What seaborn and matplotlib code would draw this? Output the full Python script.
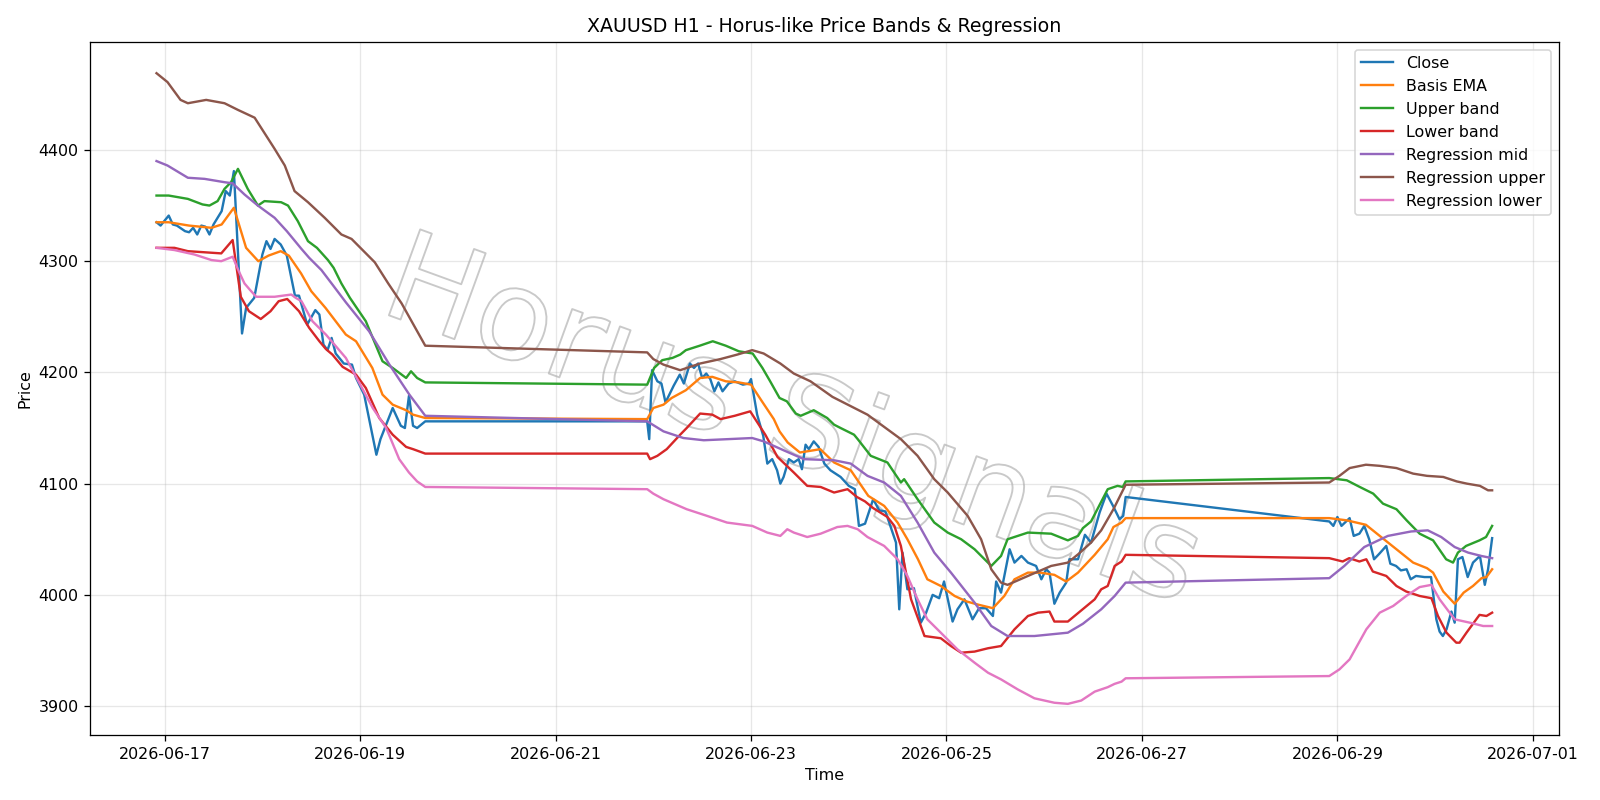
import matplotlib
matplotlib.use('Agg')
import matplotlib.pyplot as plt
import matplotlib.patheffects as pe
import seaborn as sns
import pandas as pd

# hours counted from 2026-06-17 00:00
base = pd.Timestamp('2026-06-17 00:00')

close_h = [-2, -1, 1, 2, 3, 5, 6, 7, 8, 9, 10, 11, 12, 14, 15, 16, 17, 19, 20, 22, 24, 25, 26, 27, 28.5, 30, 32, 33,
           35, 37, 38, 39, 40, 41, 42, 44, 46, 47, 49, 52, 53, 56, 58, 59, 60, 61, 62, 64,
           118.5, 119, 119.7, 121, 122, 123, 125, 126.5, 127.5, 129, 130, 131, 132, 133, 134, 135, 136, 137, 138.5, 140,
           142, 143.5, 144, 145.5, 147, 148, 149.2, 150.4, 151.2, 152, 153.3, 154.5, 155.7, 156.5, 157.4, 158.2, 159.4,
           160.6, 162, 163.5, 166, 168, 169.5, 170.5, 172, 174, 175.5, 177, 178.5, 179.6, 180.4, 181.2, 182.4, 184, 185.7,
           187, 188.6, 190.2, 191.4, 193.5, 194.7, 196.4, 198.4, 200, 201.7, 203.4, 204.2, 205.4, 207.5, 208.7, 210.4, 212,
           214, 215.3, 216.5, 217.3, 218.5, 219.8, 221.4, 222.2, 224.3, 226, 227.5, 229.6, 231.3, 232.9, 234.5, 235.4, 236,
           286, 287, 288, 289, 291, 292, 293.4, 294.6, 295.8, 297, 298.3, 300, 301, 302.4, 303.6, 305, 306, 307.3, 309.4,
           311, 312.3, 313.1, 313.9, 314.8, 316, 316.8, 317.6, 318.7, 320, 321.3, 323, 324.2, 325, 326]
close_p = [4335, 4332, 4341, 4333, 4332, 4327, 4326, 4330, 4324, 4332, 4331, 4324, 4333, 4345, 4363, 4359, 4381, 4235,
           4258, 4267, 4306, 4318, 4311, 4320, 4315, 4305, 4269, 4269, 4243, 4256, 4252, 4225, 4220, 4231, 4217, 4208,
           4207, 4195, 4180, 4126, 4140, 4168, 4152, 4150, 4179, 4152, 4150, 4156,
           4156, 4140, 4202, 4192, 4190, 4173, 4188, 4198, 4190, 4208, 4204, 4208, 4195, 4199, 4194, 4183, 4191, 4183,
           4190, 4192, 4189, 4190, 4194, 4162, 4143, 4118, 4122, 4112, 4100, 4106, 4122, 4119, 4122, 4113, 4135, 4131,
           4138, 4133, 4118, 4112, 4106, 4098, 4095, 4062, 4064, 4086, 4076, 4075, 4059, 4047, 3987, 4038, 4005, 4006,
           3975, 3984, 4000, 3997, 4012, 3976, 3987, 3996, 3978, 3988, 3988, 3981, 4012, 4002, 4041, 4029, 4035, 4029,
           4026, 4014, 4023, 4020, 3992, 4002, 4011, 4032, 4032, 4054, 4047, 4074, 4091, 4080, 4068, 4071, 4088,
           4066, 4062, 4070, 4062, 4069, 4053, 4055, 4062, 4050, 4032, 4037, 4044, 4028, 4026, 4022, 4023, 4014, 4017,
           4016, 4016, 3978, 3967, 3963, 3969, 3985, 3975, 4032, 4034, 4016, 4029, 4035, 4009, 4023, 4051]

ema_h = [-2, 1, 6, 11.5, 14, 17, 20, 23, 25.5, 28.5, 30.5, 33.5, 36, 39.5, 44.5, 47, 51, 53.5, 56, 59.3, 61, 64,
         118.5, 120, 122.5, 124.5, 128, 131.5, 134.5, 137.8, 141, 144, 146.5, 149.6, 151, 153, 156, 159.4, 161, 164.4,
         168.5, 172.8, 176.7, 180, 182.4, 185, 187.3, 190.6, 194, 197, 200, 203.4, 206.2, 208.7, 212, 215, 218.5, 221.4,
         224.3, 228.4, 231.6, 233, 235, 236,
         286, 290.3, 295, 298.4, 302.5, 306.6, 310, 311.5, 314, 316.8, 319, 321.3, 323.4, 324.6, 326]
ema_p = [4335, 4335, 4332, 4330, 4333, 4348, 4312, 4300, 4305, 4309, 4305, 4289, 4273, 4258, 4234, 4228, 4204, 4180,
         4171, 4166, 4162, 4159,
         4158, 4168, 4171, 4177, 4184, 4195, 4196, 4192, 4191, 4189, 4175, 4158, 4147, 4137, 4128, 4130, 4131, 4119,
         4112, 4089, 4080, 4065, 4050, 4032, 4014, 4008, 3999, 3994, 3991, 3988, 3999, 4014, 4020, 4020, 4018, 4012,
         4020, 4036, 4050, 4061, 4065, 4069,
         4069, 4067, 4063, 4053, 4041, 4029, 4024, 4020, 4003, 3992, 4002, 4008, 4015, 4016, 4023]

up_h = [-2, 1, 5.7, 9.3, 11, 13, 14.7, 16.3, 18, 20.4, 22.9, 24.5, 28.6, 30.3, 32.7, 35.2, 37.4, 40.1, 41.5, 43.4,
        45.5, 49.4, 53.5, 56, 59.3, 60.5, 62, 64,
        118.5, 120.2, 122.2, 124.7, 126.6, 128, 131.4, 134.6, 137.8, 141, 144.4, 146.8, 148.7, 151, 152.8, 155, 156.2,
        159.4, 162.7, 164.4, 166, 169.3, 170.2, 173.4, 177.5, 180.8, 181.6, 184.9, 189, 192.3, 195.6, 198.9, 203,
        205.4, 207, 212, 217.7, 221.8, 224.3, 225.5, 227.5, 231.6, 234, 235.3, 236,
        286, 290.3, 293.5, 296.8, 299.2, 302.5, 305, 308.2, 311.5, 314.7, 316.4, 317.6, 319.6, 322.9, 324.5, 326]
up_p = [4359, 4359, 4356, 4351, 4350, 4354, 4365, 4371, 4383, 4365, 4350, 4354, 4353, 4350, 4336, 4318, 4312, 4301,
        4294, 4280, 4267, 4246, 4210, 4204, 4195, 4201, 4195, 4191,
        4189, 4204, 4211, 4213, 4216, 4220, 4224, 4228, 4224, 4219, 4217, 4204, 4192, 4177, 4174, 4163, 4161, 4166,
        4159, 4153, 4150, 4144, 4140, 4125, 4119, 4101, 4104, 4086, 4065, 4056, 4050, 4041, 4026, 4035, 4050, 4056,
        4055, 4049, 4053, 4060, 4066, 4095, 4098, 4097, 4102,
        4105, 4103, 4097, 4091, 4082, 4077, 4067, 4055, 4049, 4032, 4029, 4038, 4044, 4049, 4052, 4062]

lo_h = [-2, 2.4, 5.7, 9.8, 13.9, 16.7, 18.7, 20.7, 23.6, 26, 28, 30.1, 33, 35.5, 38, 39.6, 41.2, 43.7, 47, 49.4, 52.7,
        56, 59.3, 61, 64,
        118.5, 119.2, 121, 123.3, 126.6, 128.2, 131.5, 134.5, 136.5, 140, 143.8, 147.5, 150.5, 154.5, 157.8, 161.1,
        164.4, 167.7, 170, 172, 174, 177.5, 179.2, 180.8, 183.3, 186.6, 190.6, 193.1, 195.6, 198.9, 202.2, 205.4,
        208.7, 212, 214.5, 217.3, 218.5, 221.8, 225.1, 228.4, 230, 231.6, 233.3, 235, 236,
        286, 289.3, 290.9, 293.4, 295.1, 296.7, 300, 302.5, 304.9, 308.2, 311.1, 312.7, 314.8, 317.2, 318, 319.7,
        322.9, 324.6, 326]
lo_p = [4312, 4312, 4309, 4308, 4307, 4319, 4268, 4255, 4248, 4255, 4264, 4266, 4255, 4240, 4228, 4221, 4216, 4205,
        4198, 4186, 4159, 4144, 4133, 4131, 4127,
        4127, 4122, 4125, 4131, 4144, 4150, 4163, 4162, 4158, 4161, 4165, 4144, 4124, 4110, 4098, 4097, 4092, 4095,
        4088, 4084, 4078, 4070, 4062, 4044, 3996, 3963, 3961, 3954, 3948, 3949, 3952, 3954, 3969, 3981, 3984, 3985,
        3976, 3976, 3986, 3996, 4005, 4008, 4026, 4030, 4036,
        4033, 4030, 4033, 4030, 4032, 4021, 4017, 4008, 4003, 3999, 3997, 3981, 3966, 3957, 3957, 3966, 3982, 3981,
        3984]

mid_h = [-2, 0.7, 5.7, 9.8, 14.7, 16.7, 19.6, 22.9, 27, 30, 33.6, 35.5, 38.5, 41.2, 44.5, 50.2, 55.2, 60.1, 64,
         118.5, 122.5, 127.4, 132.4, 144.3, 147.1, 152, 157, 164.4, 168.5, 172.6, 176.7, 180.8, 184.9, 189, 193.1,
         198.9, 203, 207, 213.6, 221.8, 225.5, 230, 233.3, 236,
         286, 289.7, 294.6, 300.4, 306.1, 310.2, 313.5, 316.8, 320.1, 323.3, 326]
mid_p = [4390, 4386, 4375, 4374, 4371, 4370, 4360, 4350, 4339, 4327, 4311, 4303, 4292, 4279, 4263, 4237, 4207, 4180,
         4161,
         4156, 4147, 4141, 4139, 4141, 4138, 4130, 4122, 4121, 4118, 4107, 4101, 4089, 4065, 4038, 4020, 3993, 3972,
         3963, 3963, 3966, 3974, 3987, 3999, 4011,
         4015, 4026, 4043, 4053, 4057, 4058, 4052, 4043, 4038, 4035, 4033]

rup_h = [-2, 0.7, 3.9, 5.7, 10.2, 14.7, 18, 22.1, 27, 29.5, 31.9, 35.2, 39.3, 43.4, 45.9, 51.6, 54.9, 58.2, 64,
         118.5, 120, 122.5, 126.6, 131.5, 136.5, 140.6, 144.3, 147.1, 151.2, 154.5, 158.6, 164, 172.6, 180.8, 184.9,
         189, 192.3, 197.2, 200.5, 203, 205.4, 207, 212, 217.7, 221.8, 224.5, 227.5, 230, 233, 236,
         286, 288.5, 291, 295, 298.4, 302.5, 306.6, 310, 314, 317.3, 319.8, 323, 325, 326]
rup_p = [4469, 4461, 4445, 4442, 4445, 4442, 4436, 4429, 4401, 4386, 4363, 4353, 4339, 4324, 4320, 4299, 4280, 4262,
         4224,
         4218, 4212, 4207, 4202, 4208, 4212, 4216, 4220, 4217, 4208, 4199, 4192, 4178, 4162, 4140, 4125, 4104, 4092,
         4071, 4050, 4023, 4011, 4009, 4017, 4026, 4029, 4037, 4047, 4058, 4077, 4099,
         4101, 4107, 4114, 4117, 4116, 4114, 4109, 4107, 4106, 4102, 4100, 4098, 4094, 4094]

rlo_h = [-2, 2.4, 7.3, 11.5, 13.9, 16.7, 18.2, 19.6, 21, 22.5, 27, 31.1, 32.2, 33.6, 36.3, 39.6, 44.5, 47, 51.1, 54.4,
         57.6, 60, 62, 64,
         118.5, 120, 122.5, 128.2, 133.2, 138.1, 144.3, 148, 151.2, 152.9, 154.5, 157.8, 161.1, 165.2, 167.7, 170.2,
         172.6, 176.7, 180, 182.4, 184.9, 187.3, 190.6, 194.7, 198.9, 202.2, 205.4, 209.5, 213.6, 218.5, 221.8, 225.1,
         228.4, 231.6, 233.3, 235, 236,
         286, 288.5, 291, 295.1, 298.4, 301.7, 304.9, 308.2, 311.1, 313.1, 316.8, 320.5, 323.8, 326]
rlo_p = [4312, 4310, 4306, 4301, 4300, 4304, 4291, 4280, 4274, 4268, 4268, 4270, 4267, 4264, 4246, 4234, 4213, 4196,
         4168, 4150, 4122, 4110, 4102, 4097,
         4095, 4091, 4086, 4077, 4071, 4065, 4062, 4056, 4053, 4059, 4056, 4052, 4055, 4061, 4062, 4059, 4052, 4044,
         4032, 4017, 3996, 3978, 3966, 3951, 3939, 3930, 3924, 3915, 3907, 3903, 3902, 3905, 3913, 3917, 3920, 3922,
         3925,
         3927, 3933, 3942, 3969, 3984, 3990, 3999, 4007, 4009, 3996, 3978, 3975, 3972, 3972]

series = [
    ('Close', close_h, close_p),
    ('Basis EMA', ema_h, ema_p),
    ('Upper band', up_h, up_p),
    ('Lower band', lo_h, lo_p),
    ('Regression mid', mid_h, mid_p),
    ('Regression upper', rup_h, rup_p),
    ('Regression lower', rlo_h, rlo_p),
]

fig, ax = plt.subplots(figsize=(14, 7), dpi=800 / 7)

for i, (name, hrs, vals) in enumerate(series):
    t = base + pd.to_timedelta(hrs, unit='h')
    sns.lineplot(x=t, y=vals, label=name, color=f'C{i}', linewidth=1.5, ax=ax)

# watermark: outlined glyphs only
ax.text(0.478, 0.447, 'Horus Signals', transform=ax.transAxes, fontsize=79, color='none',
        rotation=-20, ha='center', va='center', zorder=0,
        path_effects=[pe.Stroke(linewidth=1.2, foreground=(0.5, 0.5, 0.5, 0.42))])

ax.set_title('XAUUSD H1 - Horus-like Price Bands & Regression')
ax.set_xlabel('Time')
ax.set_ylabel('Price')
ax.grid(True, alpha=0.3)
ax.legend(loc='upper right')

plt.tight_layout()
plt.savefig('out.png', dpi=800 / 7)
